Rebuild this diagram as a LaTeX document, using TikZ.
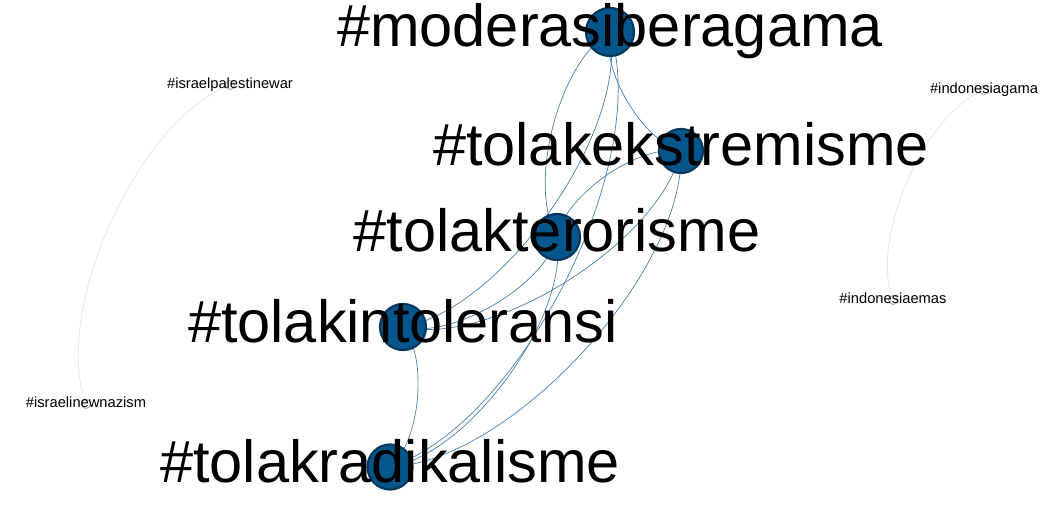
\documentclass[tikz,border=0pt]{standalone}
\usepackage{fontspec}
\setmainfont{Liberation Sans}
\usetikzlibrary{backgrounds}
\definecolor{hubfill}{RGB}{4,86,140}
\definecolor{hubline}{RGB}{5,56,94}
\definecolor{linkblue}{RGB}{72,128,172}
\definecolor{leafline}{RGB}{178,178,190}
\definecolor{faintgray}{RGB}{230,230,236}

\begin{document}
\begin{tikzpicture}[x=1pt, y=1pt,
    hub/.style={circle, fill=hubfill, draw=hubline, line width=2.2pt, inner sep=0pt},
    leaf/.style={circle, fill=white, draw=leafline, line width=1pt, inner sep=0pt, minimum size=9pt},
    bigtag/.style={font=\fontsize{59.5}{60}\selectfont, text height=42.5pt, text depth=12.5pt, inner sep=0pt},
    smalltag/.style={font=\fontsize{14.7}{15}\selectfont, text height=10.5pt, text depth=3pt, inner sep=0pt},
    link/.style={draw=linkblue, line width=0.7pt, bend right=45, looseness=0.72},
    faint/.style={draw=faintgray, line width=0.8pt, bend right=45, looseness=0.72}]
    \useasboundingbox (0,0) rectangle (1046,-510);

    % the hashtags (circles first, texts on top later)
    \node[hub, minimum size=48pt] (M) at (610,-32) {};
    \node[hub, minimum size=44pt] (E) at (681,-151) {};
    \node[hub, minimum size=46pt] (T) at (557,-237) {};
    \node[hub, minimum size=46pt] (I) at (403,-327) {};
    \node[hub, minimum size=45pt] (R) at (390,-467) {};
    %
    \node[leaf] (pal) at (230,-85) {};
    \node[leaf] (naz) at (86,-404) {};
    \node[leaf] (gama) at (984,-90) {};
    \node[leaf] (emas) at (893,-300) {};

    % the co-occurrence edges, behind the circles
    \begin{scope}[on background layer]
    \draw[link] (R.center) to (I.center);
    \draw[link] (R.center) to (M.center);
    \draw[link] (R.center) to (E.center);
    \draw[link] (R.center) to (T.center);
    \draw[link] (I.center) to (M.center);
    \draw[link] (I.center) to (E.center);
    \draw[link] (I.center) to (T.center);
    \draw[link] (M.center) to (E.center);
    \draw[link] (M.center) to (T.center);
    \draw[link] (E.center) to (T.center);
    %
    \draw[faint] (pal.center) to (naz.center);
    \draw[faint] (gama.center) to (emas.center);
    \end{scope}

    % the texts
    \node[bigtag] (Mtag) at (M) {\#moderasiberagama};
    \node[bigtag] (Etag) at (E) {\#tolakekstremisme};
    \node[bigtag] (Ttag) at (T) {\#tolakterorisme};
    \node[bigtag] (Itag) at (I) {\#tolakintoleransi};
    \node[bigtag] (Rtag) at (R) {\#tolakradikalisme};
    %
    \node[smalltag] (paltag) at (pal) {\#israelpalestinewar};
    \node[smalltag] (naztag) at (naz) {\#israelinewnazism};
    \node[smalltag] (gamatag) at (gama) {\#indonesiagama};
    \node[smalltag] (emastag) at (emas) {\#indonesiaemas};
\end{tikzpicture}
\end{document}
